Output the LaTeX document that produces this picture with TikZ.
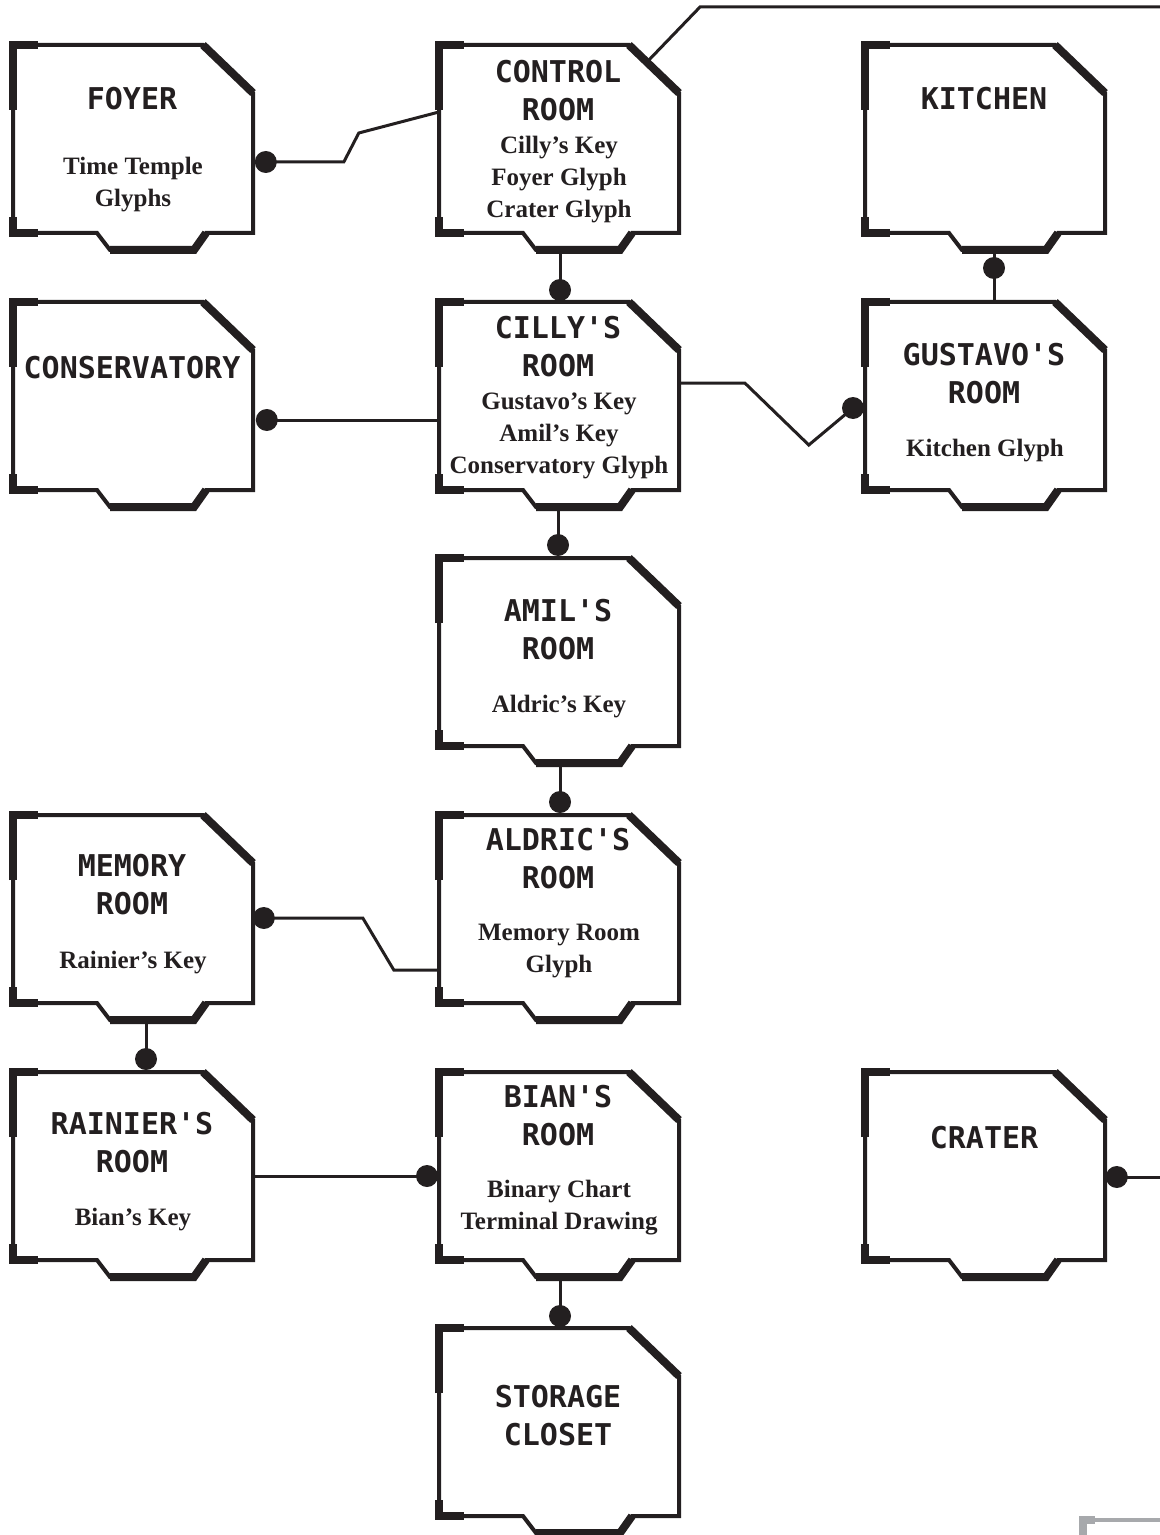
\documentclass[tikz,border=0pt]{standalone}
\usepackage{fontspec}
\setmainfont{Liberation Serif}
\newfontfamily\roomfont{DejaVu Sans Mono}
\usetikzlibrary{calc}

\definecolor{ink}{HTML}{231F20}
\definecolor{ghost}{HTML}{A7A9AC}

\tikzset{
  roombox/.style={rectangle, inner sep=0pt, minimum width=120pt, minimum height=94pt, anchor=north west},
  wall/.style={ink, line width=2pt, line join=miter},
  heavywall/.style={ink, line width=4pt},
  link/.style={ink, line width=1.5pt},
  roomtitle/.style={font=\roomfont\bfseries\fontsize{15}{19}\selectfont, align=center, inner sep=0pt, text=ink},
  roomitems/.style={font=\bfseries\fontsize{12.5}{16}\selectfont, align=center, inner sep=0pt, text=ink},
}

% \room{name}{top left}{title}{title y}{items}{items y}
\newcommand{\room}[6]{%
  \node[roombox] (#1) at (#2) {};
  \begin{scope}[shift={(#1.north west)}]
    \draw[wall] (0,0) -- (190,0) -- (240,48) -- (240,188) -- (193,188) -- (181,205)
      -- (97,205) -- (84,188) -- (0,188) -- cycle;
    \draw[heavywall] (0,65) -- (0,0) -- (25,0);
    \draw[heavywall] (0,172) -- (0,188) -- (25,188);
    \draw[heavywall] (190,0) -- (240,48);
    \draw[heavywall] (193,188) -- (181,205) -- (97,205);
  \end{scope}
  \node[roomtitle] (#1-name) at ($(#1.north west)+(119,#4)$) {#3};
  \if\relax\detokenize{#5}\relax\else
    \node[roomitems] (#1-items) at ($(#1.north west)+(120,#6)$) {#5};
  \fi
}

\begin{document}
\begin{tikzpicture}[x=0.5pt, y=-0.5pt]
\useasboundingbox (0,0) rectangle (1160,1535);

\room{foyer}{13,45}{FOYER}{54}{Time Temple\\Glyphs}{140}
\room{control}{439,45}{CONTROL\\ROOM}{46}{Cilly's Key\\Foyer Glyph\\Crater Glyph}{135}
\room{kitchen}{865,45}{KITCHEN}{54}{}{0}
\room{conserv}{13,302}{CONSERVATORY}{66}{}{0}
\room{cilly}{439,302}{CILLY'S\\ROOM}{45}{Gustavo's Key\\Amil's Key\\Conservatory Glyph}{134}
\room{gustavo}{865,302}{GUSTAVO'S\\ROOM}{72}{Kitchen Glyph}{149}
\room{amil}{439,558}{AMIL'S\\ROOM}{72}{Aldric's Key}{149}
\room{memory}{13,815}{MEMORY\\ROOM}{70}{Rainier's Key}{148}
\room{aldric}{439,815}{ALDRIC'S\\ROOM}{44}{Memory Room\\Glyph}{136}
\room{rainier}{13,1072}{RAINIER'S\\ROOM}{71}{Bian's Key}{148}
\room{bian}{439,1072}{BIAN'S\\ROOM}{44}{Binary Chart\\Terminal Drawing}{136}
\room{crater}{865,1072}{CRATER}{66}{}{0}
\room{storage}{439,1328}{STORAGE\\CLOSET}{88}{}{0}

\coordinate (edge1) at (1160,7);
\coordinate (edge2) at (1160,1177);

\draw[link] ($(foyer.north east)+(12,117)$) coordinate (k1) -- ++(78,0) -- ++(15,-29) -- ($(control.north west)+(0,67)$);
\draw[link] ($(control.north west)+(121,205)$) -- ($(cilly.north west)+(121,-12)$) coordinate (k2);
\draw[link] ($(kitchen.north west)+(129,205)$) -- ($(gustavo.north west)+(129,0)$);
\coordinate (k3) at ($(kitchen.north west)+(129,223)$);
\draw[link] ($(conserv.north east)+(13,118)$) coordinate (k4) -- ($(cilly.north west)+(0,118)$);
\draw[link] ($(cilly.north east)+(0,81)$) -- ++(65,0) -- ++(64,62) -- ($(gustavo.north west)+(-12,106)$) coordinate (k5);
\draw[link] ($(cilly.north west)+(119,205)$) -- ($(amil.north west)+(119,-13)$) coordinate (k6);
\draw[link] ($(amil.north west)+(121,205)$) -- ($(aldric.north west)+(121,-13)$) coordinate (k7);
\draw[link] ($(memory.north east)+(10,103)$) coordinate (k8) -- ++(99,0) -- ++(31,52) -- ($(aldric.north west)+(0,155)$);
\draw[link] ($(memory.north west)+(133,205)$) -- ($(rainier.north west)+(133,-13)$) coordinate (k9);
\draw[link] ($(rainier.north east)+(0,104)$) -- ($(bian.north west)+(-12,104)$) coordinate (k10);
\draw[link] ($(bian.north west)+(121,205)$) -- ($(storage.north west)+(121,-12)$) coordinate (k11);
\draw[link] ($(crater.north east)+(11,105)$) coordinate (k12) -- (edge2);
\draw[link] ($(control.north west)+(208,17)$) -- (700,7) -- (edge1);

\foreach \k in {k1,k2,k3,k4,k5,k6,k7,k8,k9,k10,k11,k12}
  \fill[ink] (\k) circle (5.5pt);

\draw[ghost, line width=4pt] (1083,1535) -- (1083,1520) -- (1095,1520);
\draw[ghost, line width=2pt] (1095,1520) -- (1160,1520);
\end{tikzpicture}
\end{document}
